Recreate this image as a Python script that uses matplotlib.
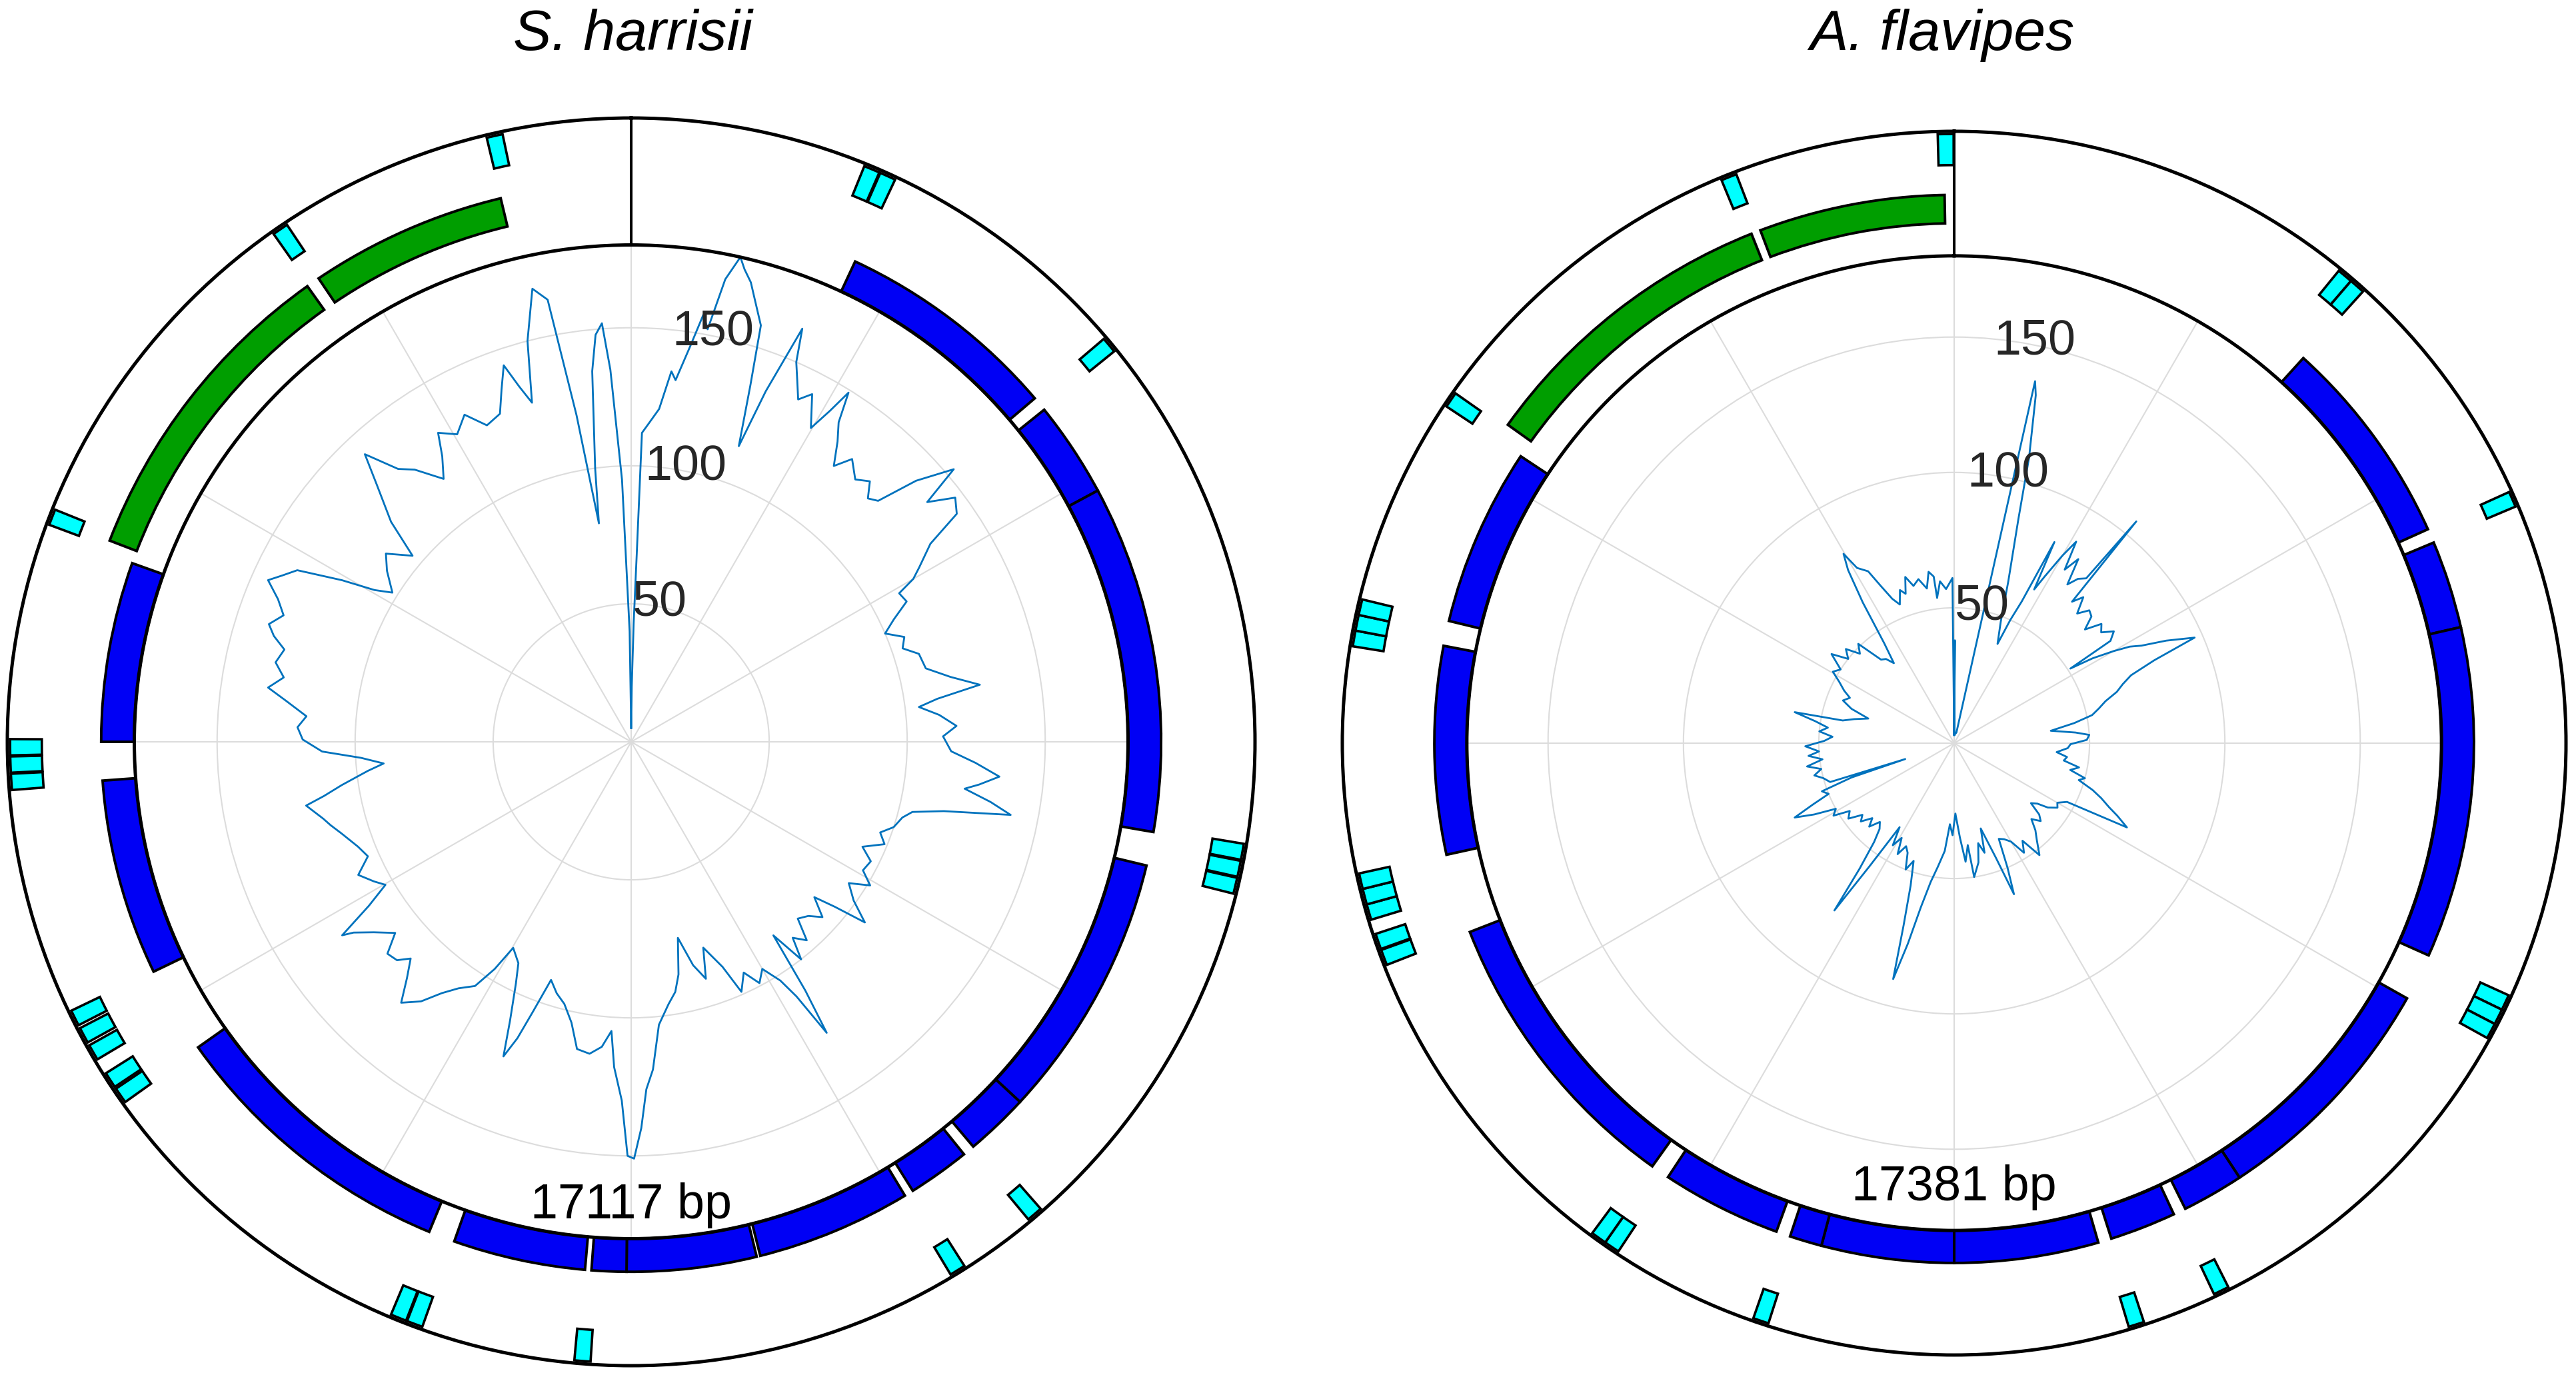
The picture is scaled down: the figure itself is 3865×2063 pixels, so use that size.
import numpy as np
import matplotlib.pyplot as plt

plt.rcParams['font.family'] = ['Liberation Sans', 'DejaVu Sans']

# ---- S. harrisii ----
sh_name = 'S. harrisii'
sh_length = 17117
sh_theta = [0, 0.6, 1.2, 1.7, 2.0, 3.0, 4.8, 6.2, 7.0, 8.5, 9.6, 10.5, 11.5, 12.7, 13.5, 14.6,
            15.5, 17.3, 18.5, 20.0, 21.0, 22.5, 23.5, 24.7, 26.0, 27.5, 29.8, 31.0, 31.9, 33.0,
            34.5, 36.3, 38.0, 40.5, 42.5, 44.2, 45.7, 47.5, 49.8, 51.0, 53.0, 55.0, 56.5, 58.8,
            60.0, 61.0, 63.0, 65.0, 66.9, 69.0, 71.0, 73.0, 76.0, 78.5, 80.7, 82.0, 83.1, 85.0,
            87.2, 89.0, 91.7, 93.5, 95.4, 97.0, 98.0, 99.5, 100.9, 102.5, 104.0, 105.6, 108.0,
            110.0, 112.0, 114.4, 116.5, 119.0, 121.0, 123.0, 125.5, 127.7, 129.0, 130.3, 132.5,
            134.5, 136.7, 138.5, 140.5, 142.0, 143.7, 145.0, 146.1, 147.0, 148.0, 150.0, 152.0,
            154.0, 156.2, 157.9, 160.7, 162.5, 164.5, 166.6, 168.5, 170.0, 171.9, 174.4, 176.2,
            177.5, 178.5, 179.6, 180.5, 181.5, 183.0, 183.9, 185.5, 187.6, 190.0, 192.0, 194.3,
            196.5, 198.6, 200.0, 201.0, 202.1, 203.5, 205.5, 207.0, 209.8, 211.0, 212.6, 215.0,
            217.0, 219.0, 221.4, 223.5, 225.5, 227.0, 229.0, 231.0, 233.5, 235.5, 236.2, 238.0,
            239.8, 241.5, 244.0, 246.5, 249.0, 252.4, 254.5, 256.0, 258.9, 260.0, 261.5, 263.7,
            265.0, 266.6, 268.2, 270.4, 272.5, 274.5, 276.8, 278.5, 280.5, 282.6, 284.9, 286.5,
            288.0, 290.0, 292.0, 294.0, 295.5, 297.2, 299.2, 300.6, 302.0, 305.0, 307.5, 310.4,
            312.5, 315.3, 317.2, 319.5, 321.5, 324.5, 326.5, 328.0, 330.5, 333.0, 335.5, 338.2,
            339.8, 341.3, 342.5, 343.7, 345.5, 347.7, 349.3, 350.5, 351.6, 352.5, 354.0, 355.0,
            356.0, 356.8, 358.0, 359.2, 360.0]
sh_cov = [5, 20, 43, 68, 112, 115, 121, 135, 132, 145, 157, 152, 171, 180, 176, 172,
          167, 158, 136, 114, 136, 162, 150, 144, 138, 142, 131, 140, 149, 138,
          132, 124, 130, 125, 128, 123, 125, 140, 153, 138, 147, 144, 130, 122,
          118, 111, 112, 105, 100, 106, 104, 109, 110, 118, 128, 112, 105, 112,
          118, 113, 116, 125, 134, 127, 122, 132, 140, 116, 105, 102, 100,
          96, 99, 92, 97, 96, 101, 94, 99, 107, 95, 87, 94,
          90, 88, 96, 92, 100, 87, 110, 127, 110, 102, 95, 99,
          93, 99, 88, 79, 90, 84, 73, 86, 92, 96, 103, 119,
          126, 140, 151, 150, 130, 118, 105, 111, 114, 113, 104, 98,
          95, 91, 104, 115, 123, 110, 97, 90, 86, 96, 105, 109,
          114, 121, 126, 118, 112, 116, 117, 110, 116, 122, 126, 112,
          103, 106, 110, 104, 106, 110, 113, 115, 120, 113, 106, 96,
          90, 98, 112, 119, 121, 118, 126, 133, 128, 132, 130, 135,
          138, 134, 138, 144, 140, 136, 120, 108, 102, 108, 112, 104,
          118, 131, 142, 130, 126, 117, 124, 132, 128, 133, 126, 128,
          136, 144, 135, 128, 150, 168, 163, 120, 80, 100, 135, 148,
          152, 135, 95, 40, 5]
sh_pcg_start = [25.0, 51.2, 61.7, 103.5, 132.8, 141.1, 148.9, 166.3, 180.5, 185.0, 202.4, 244.3, 270.0]
sh_pcg_end = [49.6, 61.7, 99.8, 132.8, 139.8, 147.9, 165.9, 180.5, 184.3, 199.5, 234.8, 265.8, 289.7]
sh_rrna_start = [291.1, 326.0]
sh_rrna_end = [324.6, 346.5]
sh_trna = [22.8, 24.4, 50.3, 100.2, 101.8, 103.4, 139.5, 148.3, 184.5, 200.4, 202.0, 235.3,
           237.0, 240.0, 241.8, 243.6, 266.3, 267.9, 269.5, 291.2, 325.6, 347.3]

# ---- A. flavipes ----
af_name = 'A. flavipes'
af_length = 17381
af_theta = [0, 0.4, 0.8, 12.0, 12.6, 13.2, 14.7, 16.0, 18.5, 21.0, 23.6, 24.5, 25.5, 26.5,
            27.5, 28.5, 30.0, 31.2, 32.5, 34.0, 35.5, 37.0, 38.7, 39.4, 39.8, 41.5, 43.5, 45.5,
            47.3, 49.0, 51.0, 53.0, 55.0, 56.8, 57.3, 58.5, 60.0, 61.2, 62.5, 64.2, 66.3, 67.5,
            69.0, 70.7, 72.5, 74.5, 76.5, 78.5, 80.5, 82.7, 85.0, 86.5, 88.6, 90.5, 92.5, 95.0,
            97.0, 99.0, 101.0, 103.0, 105.0, 106.5, 108.7, 110.5, 112.5, 114.0, 116.0, 117.5,
            120.0, 122.0, 124.5, 126.0, 128.0, 130.0, 132.0, 134.5, 137.0, 139.5, 142.7, 145.0,
            147.5, 150.0, 152.5, 155.0, 156.8, 158.4, 160.0, 162.7, 164.5, 166.5, 168.5, 171.5,
            172.4, 174.5, 176.5, 179.0, 181.0, 183.0, 185.0, 187.5, 189.6, 191.5, 193.0, 194.5,
            195.5, 197.0, 199.0, 201.0, 203.0, 205.0, 207.0, 209.0, 211.0, 213.0, 214.5, 215.6,
            217.0, 219.0, 221.0, 223.3, 225.5, 227.5, 230.0, 232.0, 234.5, 237.0, 239.0, 241.0,
            243.0, 245.0, 246.5, 248.0, 250.0, 251.5, 252.0, 252.6, 255.0, 257.0, 259.0, 261.0,
            263.0, 265.0, 266.5, 268.8, 271.0, 273.0, 275.0, 277.0, 279.0, 281.0, 281.5, 283.5,
            286.0, 288.5, 291.0, 293.5, 295.5, 298.0, 300.5, 303.0, 306.0, 308.5, 311.0, 313.5,
            316.0, 318.8, 321.0, 323.0, 325.0, 327.0, 328.5, 329.7, 331.0, 333.4, 335.0, 336.8,
            338.6, 340.5, 342.0, 343.6, 345.5, 347.7, 350.0, 351.5, 353.0, 353.3, 355.0, 357.0,
            359.4, 360.0]
af_cov = [3, 38, 3, 4, 137, 132, 109, 86, 63, 48, 40, 50, 58, 83,
          64, 70, 80, 87, 76, 82, 72, 76, 78, 106, 68, 72, 66, 70,
          69, 64, 70, 68, 72, 69, 51, 60, 68, 74, 78, 87, 97, 80,
          70, 66, 63, 58, 55, 52, 45, 36, 45, 50, 49, 43, 42, 38,
          42, 41, 47, 44, 50, 48, 54, 58, 62, 66, 71, 47,
          44, 45, 42, 38, 36, 41, 43, 40, 44, 47, 52, 44,
          48, 42, 40, 39, 50, 60, 45, 33, 42, 38, 45, 50,
          38, 44, 35, 26, 34, 30, 40, 46, 52, 62, 76, 90,
          70, 55, 46, 50, 44, 42, 46, 40, 44, 37, 55, 76,
          58, 47, 42, 40, 44, 41, 45, 43, 48, 46, 52, 50,
          58, 65, 57, 50, 52, 40, 19, 48, 50, 53, 50, 55,
          49, 54, 50, 55, 48, 45, 50, 47, 52, 60, 42, 38,
          33, 40, 44, 42, 45, 48, 52, 50, 56, 50, 53, 48,
          51, 41, 40, 37, 45, 62, 75, 81, 74, 71, 64, 58,
          55, 60, 58, 64, 60, 62, 58, 64, 62, 54, 60, 57,
          61, 3]
af_pcg_start = [42.2, 67.3, 77.1, 119.4, 146.7, 155.0, 163.9, 180.0, 194.8, 200.0, 215.5, 257.6, 283.6]
af_pcg_end = [65.7, 77.1, 114.1, 146.7, 153.6, 162.4, 180.0, 194.8, 198.4, 213.4, 248.7, 280.8, 303.5]
af_rrna_start = [305.5, 339.3]
af_rrna_end = [338.3, 359.0]
af_trna = [39.9, 41.4, 66.4, 115.2, 116.7, 118.2, 154.0, 162.6, 198.5, 214.2, 215.7, 249.4,
           251.0, 253.9, 255.4, 256.9, 279.9, 281.4, 282.9, 304.3, 338.3, 359.2]

rticks = [50, 100, 150]

W, H = 3866, 2063
fig = plt.figure(figsize=(W / 100, H / 100), dpi=100)


def draw_panel(cx, cy, R, title_x, name, length, theta, cov, pcg_s, pcg_e, rrna_s, rrna_e, trna, label_r):
    r_in = R * 180 / 226
    outer = fig.add_axes([(cx - R) / W, (H - cy - R) / H, 2 * R / W, 2 * R / H], projection='polar')
    inner = fig.add_axes([(cx - r_in) / W, (H - cy - r_in) / H, 2 * r_in / W, 2 * r_in / H],
                         projection='polar')
    for ax in (outer, inner):
        ax.set_theta_zero_location('N')
        ax.set_theta_direction(-1)
        ax.tick_params(length=0)
        ax.spines['polar'].set_linewidth(3.6)

    outer.set_ylim(0, 226)
    outer.set_xticks([])
    outer.set_yticks([])
    outer.grid(False)

    # genes: PCGs, rRNAs, tRNAs
    ps = np.array(pcg_s)
    pe = np.array(pcg_e)
    outer.bar(np.deg2rad((ps + pe) / 2), 12, width=np.deg2rad(pe - ps), bottom=180,
              color='#0000F5', edgecolor='black', linewidth=2.8)
    rs = np.array(rrna_s)
    re_ = np.array(rrna_e)
    outer.bar(np.deg2rad((rs + re_) / 2), 10.5, width=np.deg2rad(re_ - rs), bottom=192,
              color='#009E00', edgecolor='black', linewidth=2.8)
    outer.bar(np.deg2rad(trna), 11.5, width=np.deg2rad(1.5), bottom=213.5,
              color='#00FFFF', edgecolor='black', linewidth=2.6)
    outer.plot([0, 0], [180, 226], color='black', lw=2.9)

    # coverage
    inner.set_facecolor('none')
    inner.set_ylim(0, 180)
    inner.set_yticks(rticks)
    inner.set_yticklabels([])
    inner.set_xticks(np.deg2rad(np.arange(0, 360, 30)))
    inner.set_xticklabels([])
    inner.grid(color='#dcdcdc', lw=1.5)
    inner.plot(np.deg2rad(theta), cov, color='#0072BD', lw=2.0)
    for v in rticks:
        inner.text(np.deg2rad(11.3), v + 1.5, str(v), ha='center', va='center',
                   fontsize=53, color='#262626')
    inner.text(np.pi, label_r, f'{length} bp', ha='center', va='baseline', fontsize=53)

    fig.text(title_x / W, 1 - 75 / H, name, style='italic', fontsize=62, ha='center', va='baseline')


draw_panel(947, 1113, 936, 949, sh_name, sh_length, sh_theta, sh_cov,
           sh_pcg_start, sh_pcg_end, sh_rrna_start, sh_rrna_end, sh_trna, 172.6)
draw_panel(2932, 1115, 918, 2914, af_name, af_length, af_theta, af_cov,
           af_pcg_start, af_pcg_end, af_rrna_start, af_rrna_end, af_trna, 169)

fig.savefig('out.png', dpi=100, facecolor='white')
